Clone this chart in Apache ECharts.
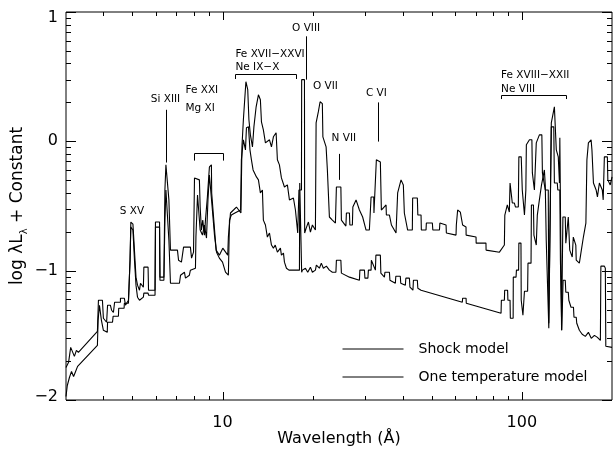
<!DOCTYPE html>
<html><head><meta charset="utf-8">
<script src="https://cdn.jsdelivr.net/npm/echarts@6/dist/echarts.min.js"></script>
<style>html,body{margin:0;padding:0;background:#fff}#c{width:613px;height:450px}</style>
</head><body><div id="c"></div>
<script>
// ---------------- data ----------------
const shockLam = [3.00,3.06,3.11,3.15,3.20,3.25,3.30,3.82,3.85,3.97,4.00,4.10,4.13,4.22,4.26,4.32,4.36,4.56,4.56,4.70,4.74,4.85,4.91,4.94,5.02,5.14,5.20,5.28,5.32,5.44,5.46,5.64,5.66,5.95,5.97,6.16,6.18,6.37,6.42,6.47,6.55,6.62,6.70,7.07,7.13,7.29,7.41,7.81,7.88,8.00,8.06,8.37,8.42,8.50,8.59,8.70,8.77,8.90,9.04,9.18,9.20,9.35,9.52,9.76,10.02,10.41,10.46,10.63,10.88,11.13,11.52,11.61,11.74,11.97,12.14,12.25,12.39,12.59,12.73,12.95,13.18,13.38,13.49,13.69,13.91,14.35,14.57,14.79,15.10,15.25,15.49,15.73,16.10,16.47,16.73,17.25,17.52,17.83,18.00,18.35,18.38,18.78,18.81,19.03,19.36,19.66,19.96,20.43,20.54,20.90,21.18,21.55,21.64,22.18,22.40,22.75,23.28,23.83,24.01,24.85,24.95,25.83,25.93,26.54,26.63,27.15,27.25,27.93,28.66,29.38,30.16,30.94,31.35,32.00,32.05,32.53,32.65,33.67,33.93,35.18,35.26,36.10,36.66,37.98,38.46,39.47,40.18,40.49,41.53,43.06,43.16,44.75,44.92,46.04,46.15,47.84,47.96,50.22,50.41,53.05,53.22,55.81,55.94,60.26,60.40,61.01,62.29,63.39,65.07,65.12,70.28,70.35,75.86,75.93,84.14,87.4,87.7,89.4,90.8,91.3,92.7,92.9,94.4,95.2,97.3,97.7,99.5,100.3,102.0,103.1,103.5,106.0,108.0,108.4,110.1,111.3,111.7,114.4,116.6,117.1,119.7,122.5,123.0,124.9,125.4,128.4,129.8,130.3,132.3,133.5,133.9,135.2,135.7,136.8,137.1,139.6,140.2,142.3,142.9,144.1,144.5,147.3,148.5,151.4,151.9,155.6,158.0,160.5,163.6,164.9,166.8,170.3,171.4,173.4,177.0,178.8,181.5,185.6,186.9,188.6,193.0,193.7,197.3,200];
const shockLog = [-1.748,-1.709,-1.593,-1.624,-1.663,-1.616,-1.632,-1.469,-1.229,-1.229,-1.368,-1.399,-1.267,-1.267,-1.306,-1.322,-1.244,-1.244,-1.213,-1.213,-1.267,-1.229,-0.919,-0.624,-0.640,-1.050,-1.112,-1.151,-1.097,-1.128,-0.973,-0.973,-1.151,-1.151,-0.624,-0.624,-1.050,-1.050,-0.376,-0.182,-0.190,-0.453,-0.841,-0.841,-0.919,-0.934,-0.818,-0.818,-0.903,-0.857,-0.283,-0.298,-0.508,-0.686,-0.609,-0.725,-0.609,-0.430,-0.198,-0.182,-0.399,-0.609,-0.841,-0.880,-0.826,-0.880,-0.740,-0.554,-0.531,-0.508,-0.554,-0.043,0.167,0.461,0.399,0.167,0.050,-0.043,0.112,0.267,0.360,0.322,0.151,0.089,-0.012,0.012,-0.043,0.035,0.066,-0.143,-0.182,-0.283,-0.353,-0.337,-0.453,-0.438,-0.531,-0.709,-0.376,-0.376,0.477,0.477,-0.709,-0.671,-0.624,-0.702,-0.647,-0.686,0.143,0.229,0.306,0.291,0.035,-0.043,-0.221,-0.585,-0.609,-0.632,-0.353,-0.353,-0.609,-0.655,-0.554,-0.554,-0.647,-0.647,-0.508,-0.453,-0.531,-0.585,-0.686,-0.686,-0.430,-0.430,-0.554,-0.554,-0.143,-0.159,-0.531,-0.492,-0.570,-0.570,-0.647,-0.709,-0.399,-0.298,-0.337,-0.554,-0.686,-0.686,-0.438,-0.438,-0.570,-0.570,-0.686,-0.686,-0.632,-0.632,-0.686,-0.686,-0.632,-0.647,-0.709,-0.725,-0.647,-0.531,-0.547,-0.647,-0.663,-0.725,-0.740,-0.787,-0.787,-0.841,-0.857,-0.802,-0.570,-0.492,-0.547,-0.322,-0.322,-0.477,-0.477,-0.508,-0.508,-0.120,-0.120,-0.376,-0.570,-0.376,-0.027,0.012,0.012,-0.244,-0.376,-0.376,-0.012,0.050,0.050,-0.244,-0.376,-0.376,-1.407,-1.407,0.143,0.267,0.267,-0.066,-0.120,-0.322,0.027,0.027,-1.461,-1.461,-0.585,-0.585,-0.787,-0.787,-0.585,-0.585,-0.841,-0.895,-0.740,-0.802,-0.919,-0.942,-0.841,-0.740,-0.632,-0.143,-0.012,0.012,-0.066,-0.322,-0.376,-0.430,-0.322,-0.376,-0.453,-0.120,-0.120,-0.298,-0.337,-0.275];

const oneTLam = [3.00,3.03,3.08,3.13,3.18,3.22,3.28,3.82,3.84,3.88,3.94,4.00,4.12,4.13,4.29,4.31,4.49,4.50,4.69,4.70,4.85,4.91,4.94,5.02,5.08,5.14,5.20,5.28,5.44,5.46,5.64,5.66,5.95,5.97,6.16,6.18,6.37,6.42,6.47,6.55,6.62,6.70,7.18,7.24,7.46,7.52,7.75,7.81,8.12,8.15,8.25,8.37,8.42,8.57,8.70,8.84,8.94,9.04,9.18,9.25,9.40,9.55,9.76,10.00,10.23,10.46,10.55,10.70,11.00,11.49,11.56,11.74,11.93,12.02,12.21,12.35,12.49,12.65,12.79,12.98,13.18,13.38,13.59,13.69,13.91,14.12,14.35,14.57,14.79,15.00,15.25,15.61,15.73,15.98,16.10,16.35,16.67,18.07,18.11,18.35,18.38,18.49,18.92,19.26,19.66,19.96,20.43,20.58,21.07,21.38,21.72,22.23,22.75,23.28,23.92,24.01,24.85,24.95,26.54,28.66,28.76,29.79,29.90,30.59,30.71,31.35,31.42,32.41,32.53,33.67,33.80,34.74,34.87,36.10,36.24,37.78,37.92,39.25,39.39,40.80,40.96,42.10,42.27,43.26,43.42,44.75,44.92,46.04,63.24,63.39,65.10,65.2,85.2,85.4,87.4,87.6,89.6,89.8,91.3,91.5,93.5,93.6,95.6,95.9,97.5,97.7,99.3,99.5,100.8,102.0,104.5,104.8,107.3,107.6,109.3,109.7,111.7,112.6,114.4,116.3,118.9,119.7,120.6,123.0,124.9,125.4,127.8,128.4,131.3,131.8,133.9,134.5,135.9,137.0,137.3,139.6,140.2,142.9,143.5,145.3,145.9,148.7,149.3,151.9,152.5,155.6,159.0,162.9,166.8,170.5,174.7,178.8,182.9,183.6,188.6,190.0,190.7,200];
const oneTLog = [-1.973,-1.888,-1.826,-1.779,-1.818,-1.787,-1.740,-1.578,-1.384,-1.267,-1.384,-1.461,-1.477,-1.399,-1.399,-1.353,-1.353,-1.291,-1.291,-1.252,-1.252,-0.919,-0.663,-0.686,-0.919,-1.112,-1.205,-1.229,-1.205,-1.174,-1.174,-1.190,-1.190,-0.663,-0.663,-1.074,-1.074,-0.609,-0.376,-0.391,-0.764,-1.097,-1.097,-1.035,-1.012,-1.058,-1.035,-0.996,-0.981,-0.740,-0.415,-0.430,-0.686,-0.725,-0.647,-0.748,-0.453,-0.260,-0.260,-0.531,-0.725,-0.857,-0.903,-0.934,-1.012,-1.035,-0.609,-0.570,-0.554,-0.531,-0.143,0.012,-0.066,0.105,0.112,-0.066,-0.143,-0.221,-0.236,-0.275,-0.298,-0.399,-0.376,-0.609,-0.647,-0.740,-0.709,-0.802,-0.826,-0.802,-0.857,-0.826,-0.880,-0.864,-0.934,-0.981,-0.996,-0.996,-0.322,-0.322,-1.012,-0.996,-0.981,-1.012,-0.973,-1.012,-0.996,-0.957,-0.981,-0.942,-0.981,-0.965,-0.996,-1.012,-1.012,-0.919,-0.919,-1.019,-1.050,-1.074,-0.996,-0.996,-1.058,-1.058,-0.996,-0.996,-0.919,-0.996,-0.880,-0.880,-1.019,-1.050,-1.012,-1.012,-1.074,-1.097,-1.043,-1.043,-1.097,-1.112,-1.058,-1.058,-1.128,-1.151,-1.074,-1.074,-1.136,-1.151,-1.244,-1.213,-1.213,-1.252,-1.329,-1.229,-1.229,-1.151,-1.151,-1.229,-1.229,-1.368,-1.368,-1.050,-1.050,-0.996,-0.996,-0.787,-0.787,-1.229,-1.345,-1.159,-1.159,-0.942,-0.942,-0.492,-0.492,-0.725,-0.802,-0.570,-0.453,-0.337,-0.221,-0.337,-0.764,-1.446,-1.446,0.112,0.112,-0.322,-0.322,-0.376,-0.376,-0.919,-1.461,-1.461,-1.074,-1.074,-1.167,-1.167,-1.229,-1.229,-1.283,-1.283,-1.360,-1.360,-1.407,-1.461,-1.492,-1.508,-1.477,-1.523,-1.500,-1.516,-1.539,-0.965,-0.965,-0.981,-1.585,-1.593];

// tick values
const xMajorTicks = [10, 100];
const xMinorTicks = [4, 5, 6, 7, 8, 9, 20, 30, 40, 50, 60, 70, 80, 90];
const yMajorTicks = [-2, -1, 0, 1];
const yDecades = [-2, -1, 0];
const yMinorMultipliers = [2, 3, 4, 5, 6, 7, 8, 9];

// line identifications
const labelTexts = ['S XV', 'Si XIII', 'Fe XXI', 'Mg XI', 'Fe XVII\u2212XXVI', 'Ne IX\u2212X', 'O VIII', 'O VII', 'N VII', 'C VI', 'Fe XVIII\u2212XXII', 'Ne VIII'];
const labelLam = [4.98, 6.45, 7.52, 7.52, 11.04, 11.04, 19.02, 22.06, 25.43, 32.66, 85.2, 85.2];
const labelLog = [-0.539, 0.329, 0.391, 0.252, 0.671, 0.574, 0.876, 0.426, 0.027, 0.368, 0.508, 0.399];
const leftAnchored = ['Fe XXI', 'Mg XI', 'Fe XVII\u2212XXVI', 'Ne IX\u2212X', 'Fe XVIII\u2212XXII', 'Ne VIII'];

const markerLam = [6.48, 19.02, 24.57, 33.15];
const markerTop = [0.244, 0.812, -0.097, 0.301];
const markerBottom = [-0.164, 0.477, -0.298, -0.002];

const bracketFrom = [8.00, 11.02, 85.2];
const bracketTo = [10.02, 17.56, 140.4];
const bracketLog = [-0.091, 0.523, 0.360];
const bracketEndLog = [-0.149, 0.482, 0.327];

// ---------------- chart ----------------
const FONT = '"DejaVu Sans", sans-serif';
const chart = echarts.init(document.getElementById('c'), null, {renderer: 'canvas'});

const shockData = shockLam.map((l, i) => [l, shockLog[i]]);
const oneTData = oneTLam.map((l, i) => [l, oneTLog[i]]);

const tickData = [];
xMajorTicks.forEach(v => tickData.push([v, 0, 0]));
xMinorTicks.forEach(v => tickData.push([v, 0, 1]));
yMajorTicks.forEach(v => tickData.push([10, v, 2]));
yDecades.forEach(d => yMinorMultipliers.forEach(m => tickData.push([10, d + Math.log10(m), 3])));

function renderTick(params, api) {
  const cs = params.coordSys;
  const kind = api.value(2);
  const p = api.coord([api.value(0), api.value(1)]);
  const st = {stroke: '#000', lineWidth: 1};
  if (kind < 2) {
    const len = kind === 0 ? 8 : 4;
    const x = Math.round(p[0]) + 0.5;
    const b = cs.y + cs.height, t = cs.y;
    return {type: 'group', children: [
      {type: 'line', shape: {x1: x, y1: b, x2: x, y2: b - len}, style: st},
      {type: 'line', shape: {x1: x, y1: t, x2: x, y2: t + len}, style: st}
    ]};
  }
  const len = kind === 2 ? 10 : 5;
  const y = Math.round(p[1]) + 0.5;
  const l = cs.x, r = cs.x + cs.width;
  return {type: 'group', children: [
    {type: 'line', shape: {x1: l, y1: y, x2: l + len, y2: y}, style: st},
    {type: 'line', shape: {x1: r, y1: y, x2: r - len, y2: y}, style: st}
  ]};
}

function renderLabel(params, api) {
  const i = params.dataIndex;
  const p = api.coord([labelLam[i], labelLog[i]]);
  const txt = labelTexts[i];
  return {type: 'text', x: p[0], y: p[1], style: {
    text: txt, fill: '#000', font: '10.5px ' + FONT,
    align: leftAnchored.indexOf(txt) >= 0 ? 'left' : 'center', verticalAlign: 'middle'
  }};
}

function renderMarker(params, api) {
  const i = params.dataIndex;
  const a = api.coord([markerLam[i], markerTop[i]]);
  const b = api.coord([markerLam[i], markerBottom[i]]);
  const x = Math.round(a[0]) + 0.5;
  return {type: 'line', shape: {x1: x, y1: a[1], x2: x, y2: b[1]}, style: {stroke: '#000', lineWidth: 1}};
}

function renderBracket(params, api) {
  const i = params.dataIndex;
  const a = api.coord([bracketFrom[i], bracketEndLog[i]]);
  const b = api.coord([bracketFrom[i], bracketLog[i]]);
  const c = api.coord([bracketTo[i], bracketLog[i]]);
  const d = api.coord([bracketTo[i], bracketEndLog[i]]);
  const y = Math.round(b[1]) + 0.5;
  return {type: 'polyline', shape: {points: [[Math.round(a[0]) + 0.5, a[1]], [Math.round(b[0]) + 0.5, y], [Math.round(c[0]) + 0.5, y], [Math.round(d[0]) + 0.5, d[1]]]},
    style: {stroke: '#000', lineWidth: 1, fill: null}};
}

const lineStyle = {color: '#000', width: 1.1};

chart.setOption({
  animation: false,
  backgroundColor: '#fff',
  textStyle: {fontFamily: FONT, color: '#000'},
  grid: {left: 66, right: 1, top: 12, bottom: 50, containLabel: false, outerBoundsMode: 'none',
    show: true, borderColor: '#000', borderWidth: 1, backgroundColor: 'transparent'},
  legend: {
    data: ['Shock model', 'One temperature model'],
    orient: 'vertical', left: 342, top: 342, padding: 0,
    itemWidth: 61, itemHeight: 14, itemGap: 14,
    itemStyle: {opacity: 0},
    lineStyle: {color: '#000', width: 1},
    textStyle: {fontFamily: FONT, fontSize: 14, color: '#000', padding: [0, 0, 0, 10]}
  },
  xAxis: {
    type: 'log', logBase: 10, min: 3, max: 200,
    axisLine: {show: false}, axisTick: {show: false}, splitLine: {show: false}, minorTick: {show: false},
    axisLabel: {
      margin: 15, fontSize: 16, fontFamily: FONT, color: '#000',
      formatter: v => (Math.abs(v - 10) < 1e-6 || Math.abs(v - 100) < 1e-6) ? String(Math.round(v)) : ''
    },
    name: 'Wavelength (\u00C5)', nameLocation: 'middle', nameGap: 31, nameMoveOverlap: false,
    nameTextStyle: {fontSize: 16, fontFamily: FONT, color: '#000'}
  },
  yAxis: {
    type: 'value', min: -2, max: 1, interval: 1,
    axisLine: {show: false}, axisTick: {show: false}, splitLine: {show: false},
    axisLabel: {
      margin: 8, fontSize: 16, fontFamily: FONT, color: '#000',
      formatter: v => v === 1 ? '{t|1}' : (v === -2 ? '{b|\u22122}' : (v < 0 ? '\u2212' + Math.abs(v) : String(v))),
      rich: {
        t: {fontSize: 16, fontFamily: FONT, color: '#000', padding: [12, 0, 0, 0]},
        b: {fontSize: 16, fontFamily: FONT, color: '#000', padding: [0, 0, 6, 0]}
      }
    },
    name: '{a|log \u03BBL}{s|\u03BB}{a| + Constant}', nameLocation: 'middle', nameGap: 37, nameMoveOverlap: false,
    nameTextStyle: {
      fontFamily: FONT, color: '#000',
      rich: {
        a: {fontSize: 17, fontFamily: FONT, color: '#000', lineHeight: 22, verticalAlign: 'middle'},
        s: {fontSize: 10, fontFamily: FONT, color: '#000', lineHeight: 22, verticalAlign: 'bottom'}
      }
    }
  },
  series: [
    {name: 'Shock model', type: 'line', data: shockData, symbol: 'none', showSymbol: false, lineStyle: lineStyle, itemStyle: {color: '#000'}, z: 3},
    {name: 'One temperature model', type: 'line', data: oneTData, symbol: 'none', showSymbol: false, lineStyle: lineStyle, itemStyle: {color: '#000'}, z: 3},
    {name: 'ticks', type: 'custom', data: tickData, renderItem: renderTick, clip: false, silent: true, z: 5},
    {name: 'labels', type: 'custom', data: labelTexts.map((t, i) => [labelLam[i], labelLog[i]]), renderItem: renderLabel, clip: false, silent: true, z: 6},
    {name: 'markers', type: 'custom', data: markerLam.map((l, i) => [l, markerTop[i]]), renderItem: renderMarker, clip: false, silent: true, z: 6},
    {name: 'brackets', type: 'custom', data: bracketFrom.map((l, i) => [l, bracketLog[i]]), renderItem: renderBracket, clip: false, silent: true, z: 6}
  ]
});
</script>
</body></html>
